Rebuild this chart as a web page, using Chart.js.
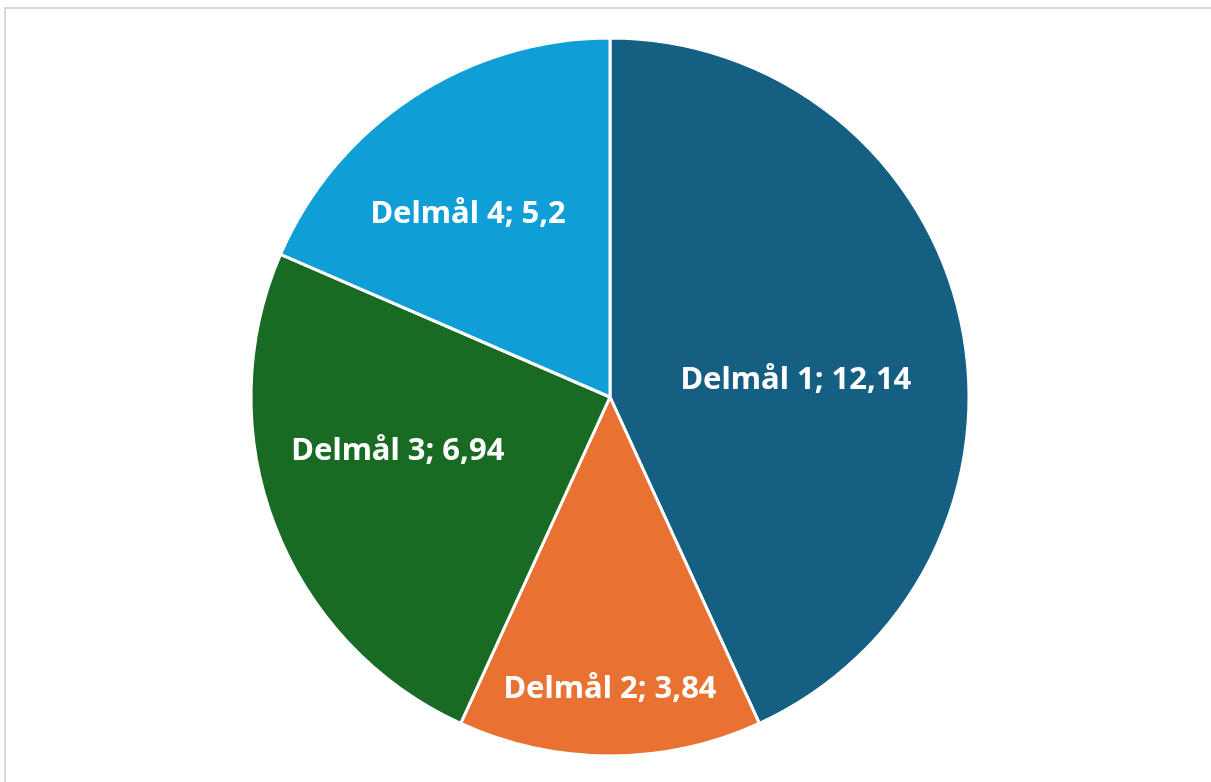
<!DOCTYPE html>
<html>
<head>
<meta charset="utf-8">
<script src="https://cdn.jsdelivr.net/npm/chart.js@4/dist/chart.umd.min.js"></script>
<style>
  html, body { margin: 0; padding: 0; background: #fff; overflow: hidden; }
  #wrap { position: relative; width: 1211px; height: 782px; }
  #frame {
    position: absolute; left: 4px; top: 7px; width: 1300px; height: 900px;
    border-left: 2px solid #d9d9d9; border-top: 2px solid #d9d9d9;
  }
  canvas { position: absolute; left: 0; top: 0; }
</style>
</head>
<body>
<div id="wrap">
  <div id="frame"></div>
  <canvas id="pie" width="1211" height="782"></canvas>
</div>
<script>
const categories = ["Delmål 1", "Delmål 2", "Delmål 3", "Delmål 4"];
const values = [12.14, 3.84, 6.94, 5.2];
const colors = ["#156082", "#E97132", "#196B24", "#0F9ED5"];

// label placement, Excel "best fit" look: share of radius and small turn (deg) off the slice middle
const labelRadius = [0.52, 0.813, 0.61, 0.645];
const labelTurn = [7, 0, 6.7, -4.5];

const fmt = v => String(v).replace(".", ",");

const labelPlugin = {
  id: "sliceLabels",
  afterDatasetsDraw(chart) {
    const ctx = chart.ctx;
    const meta = chart.getDatasetMeta(0);
    ctx.save();
    ctx.fillStyle = "#ffffff";
    ctx.font = "bold 31px 'Noto Sans', 'Open Sans', sans-serif";
    ctx.textAlign = "center";
    ctx.textBaseline = "middle";
    meta.data.forEach((arc, i) => {
      const { x, y, startAngle, endAngle, outerRadius } = arc.getProps(["x", "y", "startAngle", "endAngle", "outerRadius"], true);
      const mid = (startAngle + endAngle) / 2 + labelTurn[i] * Math.PI / 180;
      const r = outerRadius * labelRadius[i];
      ctx.fillText(categories[i] + "; " + fmt(values[i]), x + Math.cos(mid) * r, y + Math.sin(mid) * r);
    });
    ctx.restore();
  }
};

new Chart(document.getElementById("pie"), {
  type: "pie",
  data: {
    labels: categories,
    datasets: [{
      data: values,
      backgroundColor: colors,
      borderColor: "#ffffff",
      borderWidth: 3,
      hoverOffset: 0,
      radius: 359
    }]
  },
  options: {
    responsive: false,
    animation: false,
    layout: { padding: { left: 251, right: 242, top: 38, bottom: 26 } },
    plugins: { legend: { display: false }, tooltip: { enabled: false } }
  },
  plugins: [labelPlugin]
});
</script>
</body>
</html>
